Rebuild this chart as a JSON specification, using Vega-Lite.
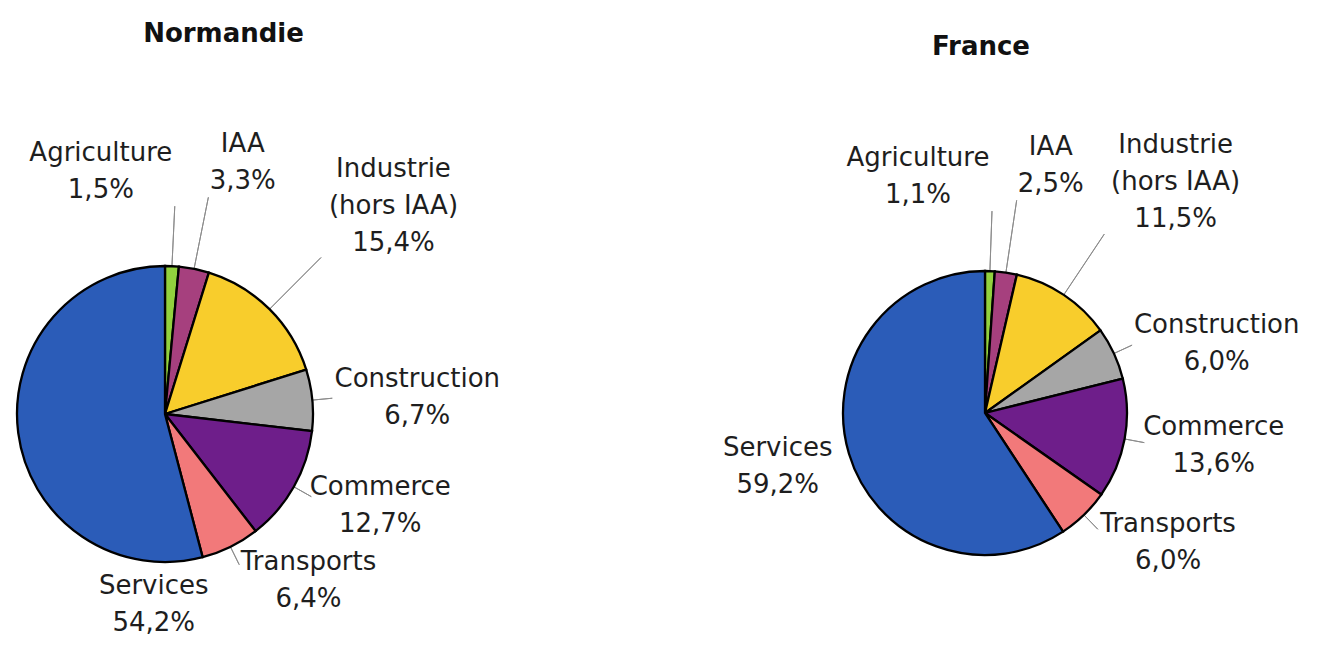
{
  "$schema": "https://vega.github.io/schema/vega-lite/v6.json",
  "width": 1319,
  "height": 646,
  "autosize": "none",
  "padding": 0,
  "background": "white",
  "config": {"view": {"stroke": null}},
  "data": {
    "values": [
      {"region": "Normandie", "name": "Agriculture", "value": 1.5},
      {"region": "Normandie", "name": "IAA", "value": 3.3},
      {"region": "Normandie", "name": "Industrie (hors IAA)", "value": 15.4},
      {"region": "Normandie", "name": "Construction", "value": 6.7},
      {"region": "Normandie", "name": "Commerce", "value": 12.7},
      {"region": "Normandie", "name": "Transports", "value": 6.4},
      {"region": "Normandie", "name": "Services", "value": 54.2},
      {"region": "France", "name": "Agriculture", "value": 1.1},
      {"region": "France", "name": "IAA", "value": 2.5},
      {"region": "France", "name": "Industrie (hors IAA)", "value": 11.5},
      {"region": "France", "name": "Construction", "value": 6.0},
      {"region": "France", "name": "Commerce", "value": 13.6},
      {"region": "France", "name": "Transports", "value": 6.0},
      {"region": "France", "name": "Services", "value": 59.2}
    ]
  },
  "transform": [
    {"window": [{"op": "row_number", "as": "idx"}]},
    {"joinaggregate": [{"op": "sum", "field": "value", "as": "total"}], "groupby": ["region"]},
    {"window": [{"op": "sum", "field": "value", "as": "cum"}], "groupby": ["region"], "sort": [{"field": "idx", "order": "ascending"}], "frame": [null, 0]},
    {"calculate": "2*PI*(datum.cum-datum.value)/datum.total", "as": "a0"},
    {"calculate": "2*PI*datum.cum/datum.total", "as": "a1"},
    {"calculate": "(datum.a0+datum.a1)/2", "as": "am"},
    {"calculate": "replace(format(datum.value,'.1f'),'.',',')+'%'", "as": "pct"},
    {"calculate": "replace(datum.name,' (','\\n(')+'\\n'+datum.pct", "as": "label"},
    {"calculate": "datum.region=='Normandie'?148:142", "as": "R"},
    {"calculate": "datum.name=='Agriculture'?'br':((datum.name=='IAA'||indexof(datum.name,'Industrie')==0)?'bl':(datum.name=='Services'?(datum.region=='Normandie'?'tr':'mr'):'ml'))", "as": "grp"},
    {"calculate": "datum.R+(datum.grp=='br'?67:(datum.grp=='bl'?80:(datum.grp=='ml'?24:(datum.grp=='mr'?18:20))))", "as": "lr"},
    {"calculate": "datum.grp=='tr'?datum.a0:datum.am", "as": "la"},
    {"calculate": "indexof(datum.name,' (')", "as": "p"},
    {"calculate": "datum.p>=0?3:2", "as": "nl"},
    {"calculate": "max(13.5*(datum.p>=0?max(datum.p,length(datum.name)-datum.p-1):length(datum.name))+11.5*(length(split(datum.name,'m'))-1),16.5*length(datum.pct))", "as": "w"},
    {"calculate": "9.5+(datum.nl-1)*18.5", "as": "hh"},
    {"calculate": "datum.lr*sin(datum.la)+((datum.grp=='bl'||datum.grp=='ml')?1:-1)*datum.w/2", "as": "cx"},
    {"calculate": "-datum.lr*cos(datum.la)+((datum.grp=='bl'||datum.grp=='br')?-datum.hh:(datum.grp=='tr'?datum.hh:(datum.grp=='ml'?0.5*datum.hh*max(0,-cos(datum.la)):8)))-(datum.nl-1)*18.5", "as": "cy"},
    {"calculate": "atan2(datum.cx,-datum.cy)", "as": "tt"},
    {"calculate": "sqrt(datum.cx*datum.cx+datum.cy*datum.cy)", "as": "trad"},
    {"calculate": "datum.lr-(datum.grp=='ml'?4:7)", "as": "le"}
  ],
  "resolve": {"scale": {"x": "independent", "y": "independent"}},
  "layer": [
    {
      "transform": [{"filter": "datum.name != 'Services'"}],
      "mark": {"type": "arc", "stroke": "#8c8c8c", "strokeWidth": 1, "fill": null, "radius2": 0},
      "encoding": {
        "x": {"field": "region", "type": "nominal", "scale": {"type": "point", "domain": ["Normandie", "France"], "range": [165, 985], "padding": 0}, "axis": null},
        "y": {"field": "region", "type": "nominal", "scale": {"type": "point", "domain": ["Normandie", "France"], "range": [414, 413], "padding": 0}, "axis": null},
        "theta": {"field": "am", "type": "quantitative", "scale": null, "stack": null},
        "theta2": {"field": "am"},
        "radius": {"field": "le", "type": "quantitative", "scale": null}
      }
    },
    {
      "mark": {"type": "arc", "stroke": "#000000", "strokeWidth": 2.3},
      "encoding": {
        "x": {"field": "region", "type": "nominal", "scale": {"type": "point", "domain": ["Normandie", "France"], "range": [165, 985], "padding": 0}, "axis": null},
        "y": {"field": "region", "type": "nominal", "scale": {"type": "point", "domain": ["Normandie", "France"], "range": [414, 413], "padding": 0}, "axis": null},
        "theta": {"field": "a0", "type": "quantitative", "scale": null, "stack": null},
        "theta2": {"field": "a1"},
        "radius": {"field": "R", "type": "quantitative", "scale": null},
        "color": {
          "field": "name",
          "type": "nominal",
          "scale": {
            "domain": ["Agriculture", "IAA", "Industrie (hors IAA)", "Construction", "Commerce", "Transports", "Services"],
            "range": ["#92d13e", "#a6407e", "#f8cd2c", "#a6a6a6", "#6e1e8a", "#f2797a", "#2b5cb8"]
          },
          "legend": null
        }
      }
    },
    {
      "mark": {"type": "text", "font": "DejaVu Sans", "fontSize": 26, "lineHeight": 37, "lineBreak": "\n", "align": "center", "baseline": "middle", "fill": "#1e1e1e"},
      "encoding": {
        "x": {"field": "region", "type": "nominal", "scale": {"type": "point", "domain": ["Normandie", "France"], "range": [165, 985], "padding": 0}, "axis": null},
        "y": {"field": "region", "type": "nominal", "scale": {"type": "point", "domain": ["Normandie", "France"], "range": [414, 413], "padding": 0}, "axis": null},
        "theta": {"field": "tt", "type": "quantitative", "scale": null, "stack": null},
        "radius": {"field": "trad", "type": "quantitative", "scale": null},
        "text": {"field": "label", "type": "nominal"}
      }
    },
    {
      "transform": [{"aggregate": [{"op": "count", "as": "n"}], "groupby": ["region"]}],
      "mark": {"type": "text", "font": "DejaVu Sans", "fontSize": 26, "fontWeight": "bold", "align": "center", "baseline": "middle", "fill": "#111111"},
      "encoding": {
        "x": {"field": "region", "type": "nominal", "scale": {"type": "point", "domain": ["Normandie", "France"], "range": [223.5, 981], "padding": 0}, "axis": null},
        "y": {"field": "region", "type": "nominal", "scale": {"type": "point", "domain": ["Normandie", "France"], "range": [34, 47], "padding": 0}, "axis": null},
        "text": {"field": "region", "type": "nominal"}
      }
    }
  ]
}
